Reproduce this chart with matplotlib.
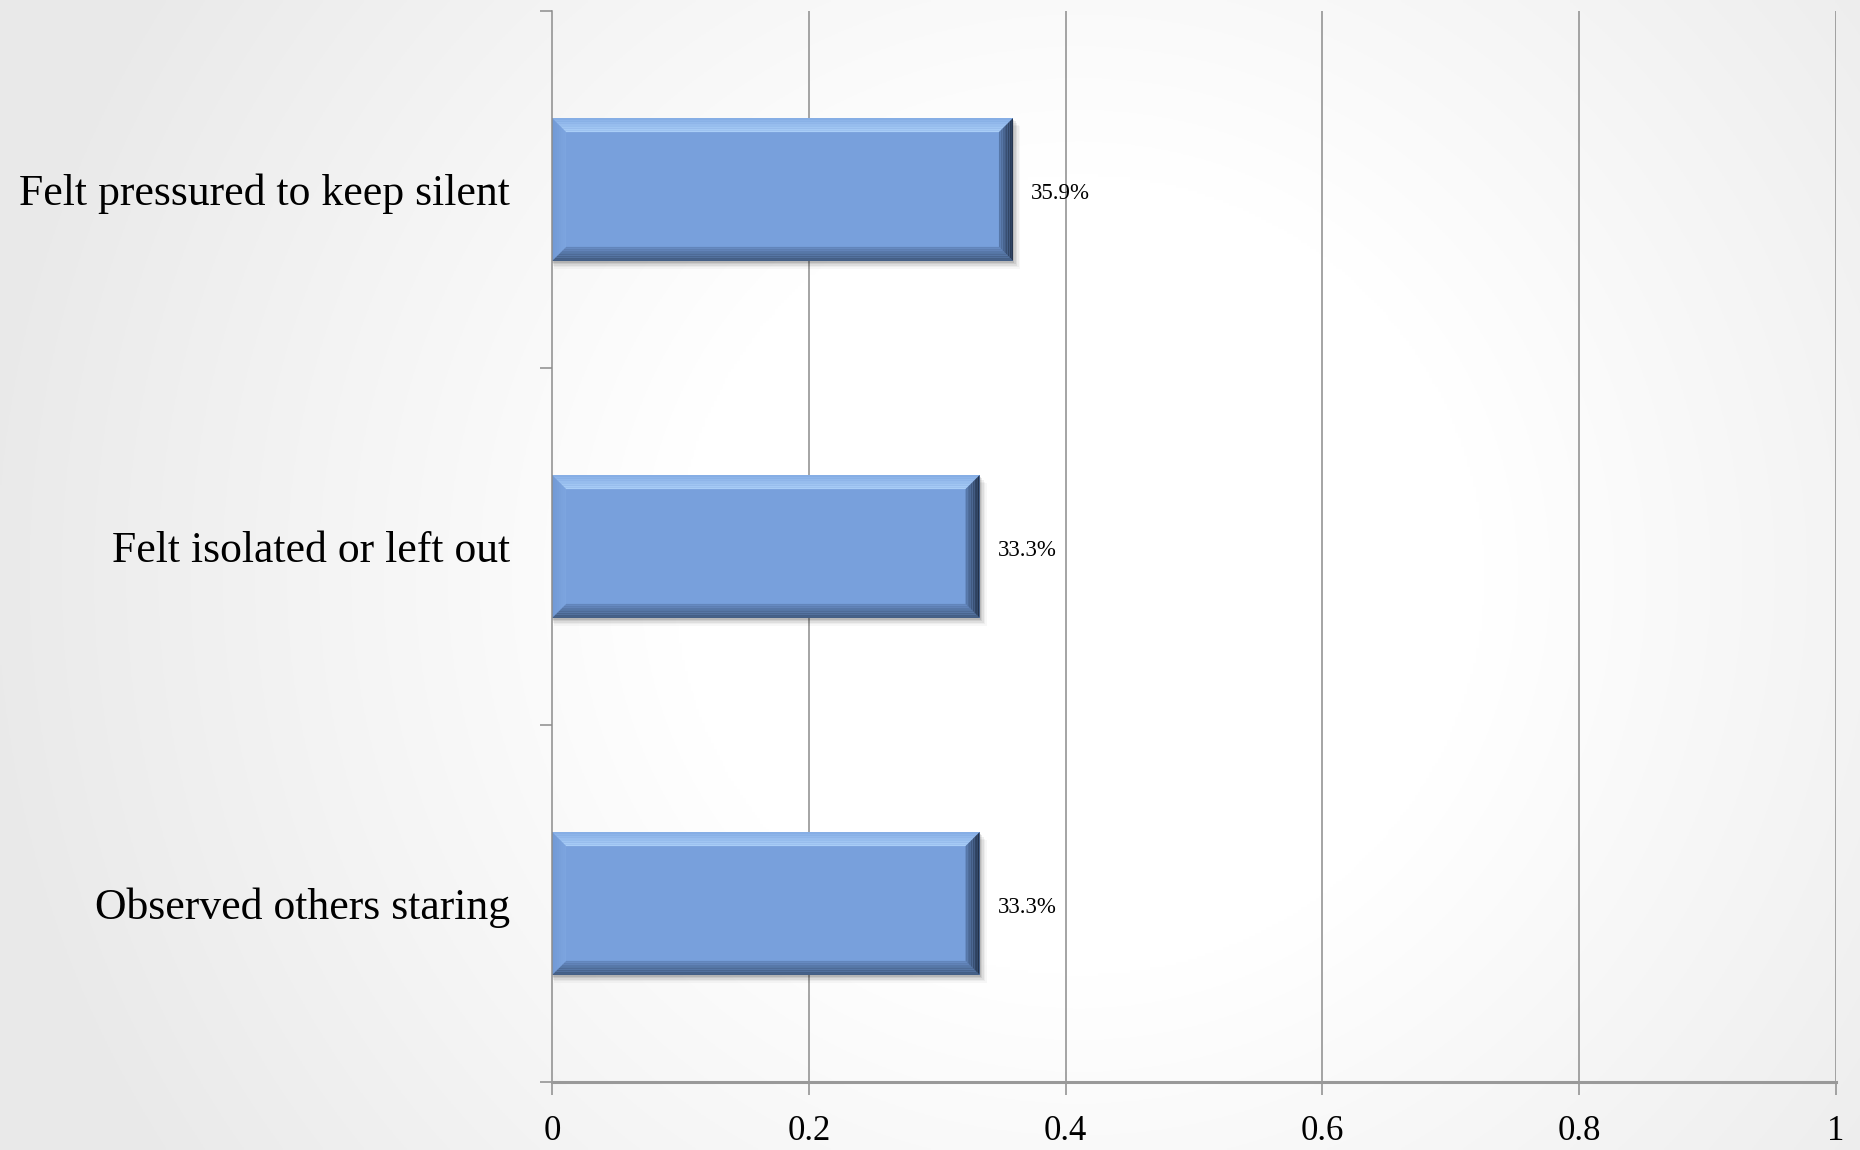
import numpy as np
import matplotlib
matplotlib.use("Agg")
import matplotlib.pyplot as plt
from matplotlib.patches import Polygon, Rectangle
from matplotlib.colors import to_rgb

categories = ["Felt pressured to keep silent", "Felt isolated or left out", "Observed others staring"]
values = [0.359, 0.333, 0.333]
value_labels = ["35.9%", "33.3%", "33.3%"]
xticks = [0, 0.2, 0.4, 0.6, 0.8, 1.0]
xtick_labels = ["0", "0.2", "0.4", "0.6", "0.8", "1"]

W, H, DPI = 18.6, 11.5, 100
fig = plt.figure(figsize=(W, H), dpi=DPI)

# background radial gradient
bg = fig.add_axes([0, 0, 1, 1], zorder=-10)
yy, xx = np.mgrid[0:1:400j, 0:1:640j]
r = np.sqrt(((xx - 0.58) * 1.6) ** 2 + ((yy - 0.5) * 1.0) ** 2)
v = 1 - 0.085 * np.clip((r - 0.35) / 0.6, 0, 1)
bg.imshow(np.dstack([v, v, v]), extent=[0, 1, 0, 1], aspect="auto", origin="lower")
bg.axis("off")

ax = fig.add_axes([552 / 1860, (1150 - 1082) / 1150, (1836 - 552) / 1860, (1082 - 11) / 1150])
ax.set_facecolor("none")

y = np.arange(len(categories))
bar_h = 0.40
ax.set_xlim(0, 1)
ax.set_ylim(len(categories) - 0.5, -0.5)

# grid lines
for t in xticks[1:]:
    ax.axvline(t, color="#8c8c8c", lw=1.1, zorder=1)

bars = ax.barh(y, values, height=bar_h, color="#78a0dc", zorder=3, linewidth=0)

# bevel in pixel units converted to data units
px_per_x = (1836 - 552) / 1.0
px_per_y = (1082 - 11) / 3.0
bw = 14
dx = bw / px_per_x
dy = bw / px_per_y

def lerp(c1, c2, t):
    a = np.array(to_rgb(c1)); b = np.array(to_rgb(c2))
    return tuple(a + (b - a) * t)

n = 8
for rect in bars:
    x0 = rect.get_x(); w = rect.get_width()
    yc0 = rect.get_y(); h = rect.get_height()
    x1 = x0 + w
    ytop = yc0
    ybot = yc0 + h
    # shadow
    for k, a in enumerate([0.10, 0.08, 0.06, 0.04, 0.03]):
        off = (k + 1) * 1.6
        ax.add_patch(Rectangle((x0 + off / px_per_x * 0.3, ytop + off / px_per_y),
                               w + off / px_per_x * 0.6, h, color="black", alpha=a,
                               lw=0, zorder=2))
    for i in range(n):
        t0 = i / n; t1 = (i + 1) / n
        c = lerp("#86aee6", "#acd0f8", (i + 0.5) / n)
        ax.add_patch(Polygon([(x0 + dx * t0, ytop + dy * t0), (x1 - dx * t0, ytop + dy * t0),
                              (x1 - dx * t1, ytop + dy * t1), (x0 + dx * t1, ytop + dy * t1)],
                             closed=True, color=c, lw=0, zorder=4))
        c = lerp("#3c5577", "#6488c0", (i + 0.5) / n)
        ax.add_patch(Polygon([(x0 + dx * t0, ybot - dy * t0), (x1 - dx * t0, ybot - dy * t0),
                              (x1 - dx * t1, ybot - dy * t1), (x0 + dx * t1, ybot - dy * t1)],
                             closed=True, color=c, lw=0, zorder=4))
        c = lerp("#7098d4", "#7ea6e0", (i + 0.5) / n)
        ax.add_patch(Polygon([(x0 + dx * t0, ytop + dy * t0), (x0 + dx * t1, ytop + dy * t1),
                              (x0 + dx * t1, ybot - dy * t1), (x0 + dx * t0, ybot - dy * t0)],
                             closed=True, color=c, lw=0, zorder=4))
        c = lerp("#1e2c42", "#5a7cb0", (i + 0.5) / n)
        ax.add_patch(Polygon([(x1 - dx * t0, ytop + dy * t0), (x1 - dx * t1, ytop + dy * t1),
                              (x1 - dx * t1, ybot - dy * t1), (x1 - dx * t0, ybot - dy * t0)],
                             closed=True, color=c, lw=0, zorder=4))

# value labels
for yi, val, lab in zip(y, values, value_labels):
    ax.annotate(lab, xy=(val, yi), xytext=(18, -4), textcoords="offset pixels",
                ha="left", va="center", fontsize=16.5, family="Liberation Serif",
                color="black", zorder=5)

# spines
for s in ["top", "right"]:
    ax.spines[s].set_visible(False)
ax.spines["left"].set_color("#8c8c8c")
ax.spines["left"].set_linewidth(1.1)
ax.spines["bottom"].set_color("#999999")
ax.spines["bottom"].set_linewidth(2.2)
ax.spines["left"].set_zorder(6)
ax.spines["bottom"].set_zorder(6)

ax.set_xticks(xticks)
ax.set_xticklabels(xtick_labels, family="Liberation Serif", fontsize=25)
ax.tick_params(axis="x", direction="out", length=9, width=1.1, color="#8c8c8c", pad=15)

ax.set_yticks(np.arange(len(categories) + 1) - 0.5)
ax.set_yticklabels([])
ax.tick_params(axis="y", which="major", direction="out", length=9, width=1.1, color="#8c8c8c")
ax.set_yticks(y, minor=True)
ax.set_yticklabels(categories, minor=True, family="Liberation Serif", fontsize=31.5)
ax.tick_params(axis="y", which="minor", length=0, pad=30)

fig.savefig("out.png", dpi=DPI)
